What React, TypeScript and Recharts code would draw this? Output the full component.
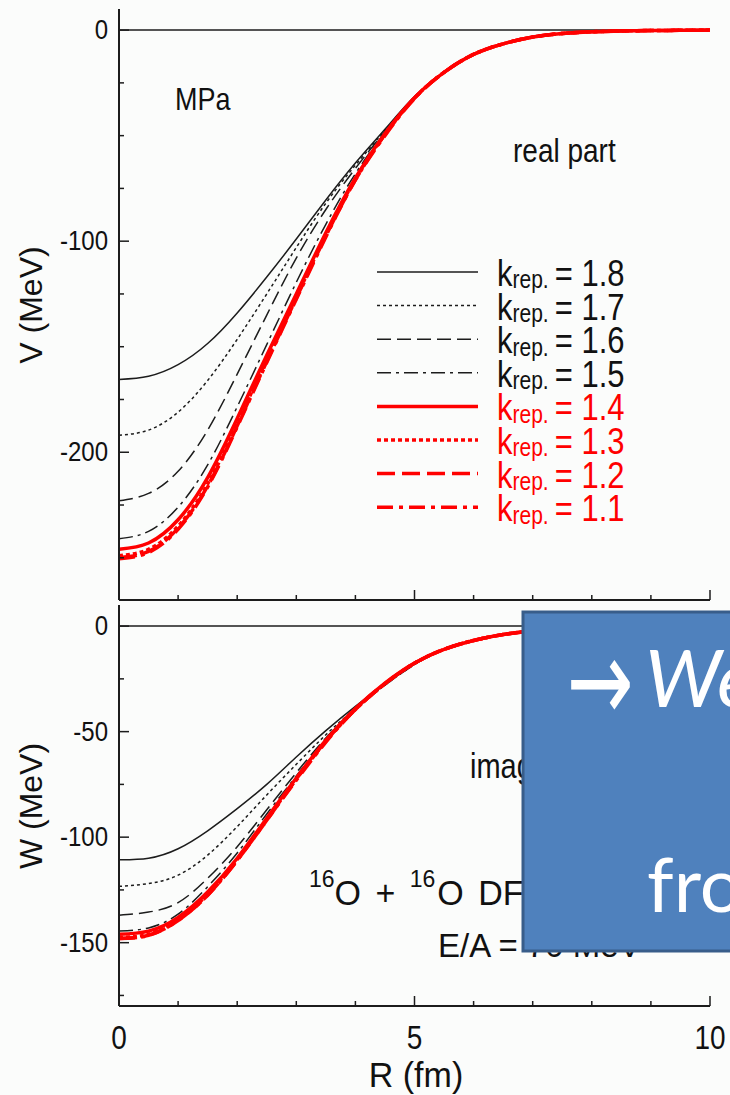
import React from 'react';
import { LineChart, Line, XAxis, YAxis, ReferenceLine } from 'recharts';

// radial grid (fm)
const R = [0, 0.5, 1, 1.5, 2, 2.5, 3, 3.5, 4, 4.5, 5, 5.5, 6, 6.5, 7, 7.5, 8, 8.5, 9, 9.5, 10];

// real part V(R), MeV, one array per k_rep.
const V_18 = [-165.5, -164, -158.5, -148.5, -134, -117, -99, -80.5, -63, -47, -31.5, -20, -11.5, -6.5, -3.3, -1.6, -0.8, -0.4, -0.2, -0.1, 0];
const V_17 = [-192, -189.5, -181, -166, -146.5, -125, -103, -82, -64, -47.5, -31.8, -20, -11.5, -6.5, -3.3, -1.6, -0.8, -0.4, -0.2, -0.1, 0];
const V_16 = [-223, -219.5, -209, -189.5, -163, -135, -108, -85, -65.5, -48, -32, -20, -11.5, -6.5, -3.3, -1.6, -0.8, -0.4, -0.2, -0.1, 0];
const V_15 = [-241, -237.5, -226, -206, -178.5, -149, -119.5, -92, -68, -48.5, -32, -20, -11.5, -6.5, -3.3, -1.6, -0.8, -0.4, -0.2, -0.1, 0];
const V_14 = [-246, -243, -232, -212, -184, -154, -125, -96, -70, -49, -32, -20, -11.5, -6.5, -3.3, -1.6, -0.8, -0.4, -0.2, -0.1, 0];
const V_13 = [-249, -246, -235, -215, -186.5, -156, -126.5, -97, -70.5, -49.5, -32.2, -20, -11.5, -6.5, -3.3, -1.6, -0.8, -0.4, -0.2, -0.1, 0];
const V_12 = [-250, -247, -236, -216, -187.5, -157, -127, -97.5, -71, -49.5, -32.3, -20, -11.5, -6.5, -3.3, -1.6, -0.8, -0.4, -0.2, -0.1, 0];
const V_11 = [-250.5, -247.5, -236.5, -216.5, -188, -157.5, -127.5, -98, -71, -50, -32.4, -20, -11.5, -6.5, -3.3, -1.6, -0.8, -0.4, -0.2, -0.1, 0];

// imaginary part W(R), MeV
const W_18 = [-110.7, -110, -105.5, -97, -86.5, -75, -62, -49.5, -38, -27.5, -18, -11, -6.8, -4, -2.3, -1.3, -0.7, -0.4, -0.2, -0.1, 0];
const W_17 = [-123.3, -122, -118, -108.5, -95, -80, -65.5, -51.5, -39, -28, -18.2, -11, -6.8, -4, -2.3, -1.3, -0.7, -0.4, -0.2, -0.1, 0];
const W_16 = [-137, -135.5, -131, -119.5, -104.5, -87, -69.5, -53, -39.5, -28, -18.2, -11, -6.8, -4, -2.3, -1.3, -0.7, -0.4, -0.2, -0.1, 0];
const W_15 = [-144.5, -143, -136.5, -123.5, -107.5, -89, -71, -53.5, -39, -27.5, -18, -11, -6.8, -4, -2.3, -1.3, -0.7, -0.4, -0.2, -0.1, 0];
const W_14 = [-146, -144.5, -138, -126, -110, -91, -72, -54, -39, -27, -17.5, -11, -6.8, -4, -2.3, -1.3, -0.7, -0.4, -0.2, -0.1, 0];
const W_13 = [-147.5, -146, -139, -127, -110.5, -91.5, -72.5, -54.5, -39.5, -27.3, -17.6, -11, -6.8, -4, -2.3, -1.3, -0.7, -0.4, -0.2, -0.1, 0];
const W_12 = [-148, -146.5, -139.5, -127.5, -111, -92, -72.5, -54.5, -39.5, -27.3, -17.6, -11, -6.8, -4, -2.3, -1.3, -0.7, -0.4, -0.2, -0.1, 0];
const W_11 = [-148, -146.5, -139.5, -127.5, -111, -92, -73, -55, -39.5, -27.3, -17.6, -11, -6.8, -4, -2.3, -1.3, -0.7, -0.4, -0.2, -0.1, 0];

const K_REP = ['1.8', '1.7', '1.6', '1.5', '1.4', '1.3', '1.2', '1.1'];

const X_TICKS = [0, 1, 2, 3, 4, 5, 6, 7, 8, 9, 10];
const X_LABELS = [0, 5, 10];
const V_TICKS = [-250, -225, -200, -175, -150, -125, -100, -75, -50, -25, 0];
const V_LABELS = [0, -100, -200];
const W_TICKS = [-175, -150, -125, -100, -75, -50, -25, 0];
const W_LABELS = [0, -50, -100, -150];

const INK = '#1c1c1c';
const RED = '#ff0000';
const FONT = '"Liberation Sans", Arial, sans-serif';
const STRETCH = 1.18;

const STYLES = [
  { color: INK, width: 1.5, dash: undefined },
  { color: INK, width: 1.5, dash: '3 3' },
  { color: INK, width: 1.5, dash: '14 6' },
  { color: INK, width: 1.5, dash: '14 5 3 5' },
  { color: RED, width: 3.5, dash: undefined },
  { color: RED, width: 3.5, dash: '4 3' },
  { color: RED, width: 3.5, dash: '18 7' },
  { color: RED, width: 3.5, dash: '16 6 4 6' },
];

const SERIES = K_REP.map((k, i) => ({ key: 'k' + i, k, ...STYLES[i] }));

const toRows = (cols: number[][]) =>
  R.map((r, i) => {
    const row: Record<string, number> = { r };
    cols.forEach((c, j) => (row['k' + j] = c[i]));
    return row;
  });

const realRows = toRows([V_18, V_17, V_16, V_15, V_14, V_13, V_12, V_11]);
const imagRows = toRows([W_18, W_17, W_16, W_15, W_14, W_13, W_12, W_11]);

const LEFT = 119;
const RIGHT = 710;
const WIDTH = 730;

// text with the tall look of the original figure lettering
function Tall({ x, y, size, anchor = 'start', fill = '#111', stretch = STRETCH, wordSpacing, children }: any) {
  return (
    <g transform={`translate(${x},${y}) scale(1,${stretch})`}>
      <text x={0} y={0} fontSize={size} fontFamily={FONT} textAnchor={anchor} fill={fill} wordSpacing={wordSpacing}>
        {children}
      </text>
    </g>
  );
}

function Panel({ rows, height, top, bottom, domain, yTicks, yLabels, xLabels }: any) {
  const plotBottom = height - bottom;
  const leftTick = ({ y, payload }: any) => {
    const major = yLabels.includes(payload.value);
    return (
      <g>
        <line x1={LEFT} x2={LEFT + (major ? 10 : 5)} y1={y} y2={y} stroke={INK} strokeWidth={1.5} />
        {major && (
          <Tall x={LEFT - 11} y={y + 9} size={24} anchor="end">
            {String(payload.value)}
          </Tall>
        )}
      </g>
    );
  };
  const rightTick = ({ y, payload }: any) => {
    const major = yLabels.includes(payload.value);
    return <line x1={RIGHT - (major ? 10 : 5)} x2={RIGHT} y1={y} y2={y} stroke={INK} strokeWidth={1.5} />;
  };
  const bottomTick = ({ x, payload }: any) => {
    const major = payload.value % 5 === 0;
    return (
      <g>
        <line x1={x} x2={x} y1={plotBottom} y2={plotBottom - (major ? 10 : 5)} stroke={INK} strokeWidth={1.5} />
        {xLabels && xLabels.includes(payload.value) && (
          <Tall x={x} y={plotBottom + 43} size={28} anchor="middle">
            {String(payload.value)}
          </Tall>
        )}
      </g>
    );
  };
  const topTick = ({ x, payload }: any) => {
    const major = payload.value % 5 === 0;
    return <line x1={x} x2={x} y1={top} y2={top + (major ? 10 : 5)} stroke={INK} strokeWidth={1.5} />;
  };
  const frame = { stroke: INK, strokeWidth: 2 };
  return (
    <LineChart width={WIDTH} height={height} data={rows} margin={{ top, right: WIDTH - RIGHT, bottom: 0, left: 0 }}>
      <XAxis dataKey="r" type="number" domain={[0, 10]} ticks={X_TICKS} interval={0}
        height={bottom} axisLine={frame} tickLine={false} tick={bottomTick} />
      <XAxis xAxisId="top" orientation="top" dataKey="r" type="number" domain={[0, 10]} ticks={X_TICKS}
        interval={0} height={0} axisLine={frame} tickLine={false} tick={topTick} />
      <YAxis type="number" domain={domain} ticks={yTicks} interval={0} width={LEFT}
        axisLine={frame} tickLine={false} tick={leftTick} allowDataOverflow />
      <YAxis yAxisId="right" orientation="right" type="number" domain={domain} ticks={yTicks} interval={0}
        width={0} axisLine={frame} tickLine={false} tick={rightTick} allowDataOverflow />
      <ReferenceLine y={0} stroke={INK} strokeWidth={1.5} />
      {SERIES.map((s) => (
        <Line key={s.key} dataKey={s.key} type="natural" stroke={s.color} strokeWidth={s.width}
          strokeDasharray={s.dash} dot={false} isAnimationActive={false} />
      ))}
    </LineChart>
  );
}

export default function App() {
  return (
    <div style={{ position: 'absolute', left: 0, top: 0, width: WIDTH, height: 1095, background: '#fbfcfb', overflow: 'hidden' }}>
      <div style={{ position: 'absolute', left: 0, top: 0 }}>
        <Panel rows={realRows} height={605} top={9} bottom={5} domain={[-270, 10]}
          yTicks={V_TICKS} yLabels={V_LABELS} />
      </div>
      <div style={{ position: 'absolute', left: 0, top: 600 }}>
        <Panel rows={imagRows} height={495} top={5} bottom={89} domain={[-180, 10]}
          yTicks={W_TICKS} yLabels={W_LABELS} xLabels={X_LABELS} />
      </div>
      <svg width={WIDTH} height={1095} style={{ position: 'absolute', left: 0, top: 0, pointerEvents: 'none' }}>
        <text transform="translate(42,305) rotate(-90)" fontSize={32} fontFamily={FONT} textAnchor="middle" fill="#111">V (MeV)</text>
        <text transform="translate(42,806) rotate(-90)" fontSize={32} fontFamily={FONT} textAnchor="middle" fill="#111">W (MeV)</text>
        <Tall x={416} y={1087} size={34} anchor="middle" stretch={1.05}>R (fm)</Tall>

        <Tall x={175} y={110} size={27}>MPa</Tall>
        <Tall x={513} y={162} size={28}>real part</Tall>
        <Tall x={470} y={778} size={29}>imaginary part</Tall>
        <Tall x={309} y={905} size={34} stretch={1.02} wordSpacing={5}>
          <tspan fontSize={23} dy={-18}>16</tspan>
          <tspan dy={18}>O + </tspan>
          <tspan fontSize={23} dy={-18}>16</tspan>
          <tspan dy={18} dx={2}>O DFM</tspan>
        </Tall>
        <Tall x={438} y={957} size={33} stretch={1.02}>E/A = 70 MeV</Tall>

        {SERIES.map((s, i) => {
          const ly = 272 + i * 33.6;
          return (
            <g key={s.key}>
              <line x1={377} x2={478} y1={ly} y2={ly} stroke={s.color} strokeWidth={s.width} strokeDasharray={s.dash} />
              <Tall x={497} y={ly + 14} size={31} stretch={1.2} fill={s.color === RED ? RED : '#111'}>
                k<tspan fontSize={21} dy={2}>rep.</tspan>
                <tspan dy={-2} dx={6}>= {s.k}</tspan>
              </Tall>
            </g>
          );
        })}

        <rect x={523} y={612} width={240} height={339} fill="#4f81bd" stroke="#385d8a" strokeWidth={3} />
        <text transform="translate(600,681) scale(1,1.45)" fontSize={80} fontFamily="'DejaVu Sans', sans-serif"
          textAnchor="middle" dominantBaseline="central" fill="#ffffff">→</text>
        <text x={645} y={707} fontSize={80} fontStyle="italic" fontFamily="Lato, sans-serif" fill="#ffffff">We</text>
        <text x={647} y={912} fontSize={76} fontFamily="Lato, sans-serif" fill="#ffffff">fro</text>
      </svg>
    </div>
  );
}
